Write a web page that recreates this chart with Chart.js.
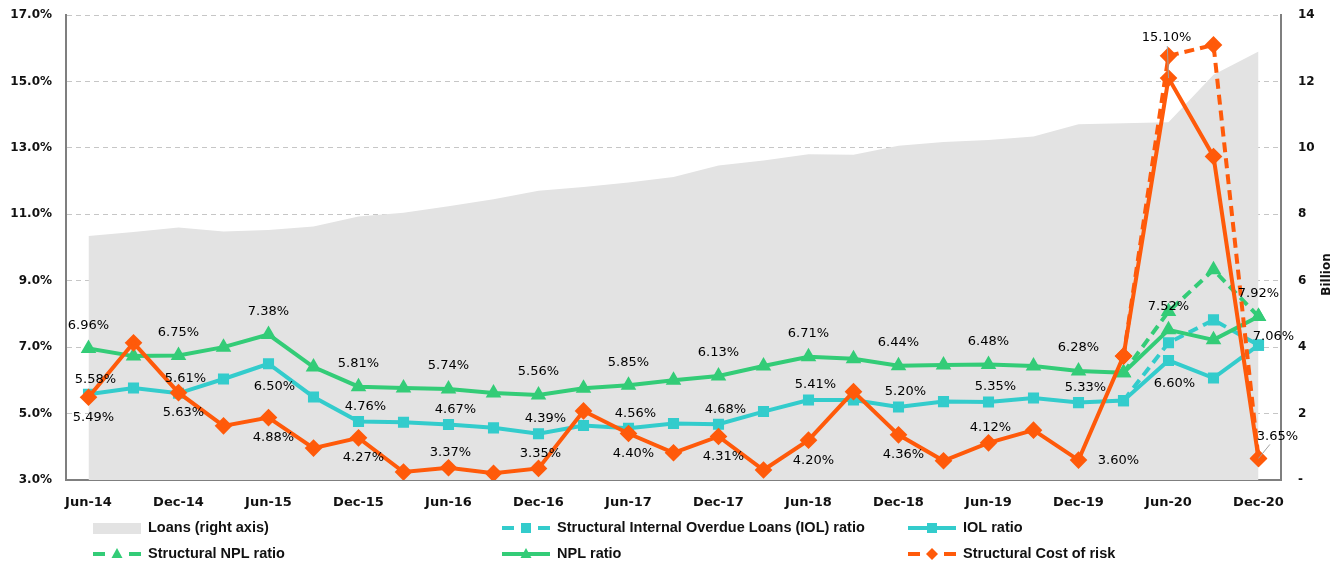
<!DOCTYPE html>
<html>
<head>
<meta charset="utf-8">
<script src="https://cdn.jsdelivr.net/npm/chart.js@4.4.1/dist/chart.umd.min.js"></script>
<style>
  body { margin: 0; background: #fff; }
  #wrap { position: relative; width: 1343px; height: 563px; }
</style>
</head>
<body>
<div id="wrap"><canvas id="chart"></canvas></div>
<script>
const quarters = ["Jun-14", "Sep-14", "Dec-14", "Mar-15", "Jun-15", "Sep-15", "Dec-15", "Mar-16", "Jun-16",
    "Sep-16", "Dec-16", "Mar-17", "Jun-17", "Sep-17", "Dec-17", "Mar-18", "Jun-18", "Sep-18", "Dec-18",
    "Mar-19", "Jun-19", "Sep-19", "Dec-19", "Mar-20", "Jun-20", "Sep-20", "Dec-20"];

// loans, billion (right axis)
const loans = [7.35, 7.47, 7.6, 7.48, 7.53, 7.63, 7.93, 8.05, 8.24, 8.45, 8.71, 8.82, 8.96, 9.12, 9.47,
    9.62, 9.81, 9.79, 10.06, 10.18, 10.24, 10.34, 10.71, 10.74, 10.77, 12.2, 12.9];

// ratios in %
const nplRatio = [6.96, 6.73, 6.75, 7.0, 7.38, 6.4, 5.81, 5.77, 5.74, 5.62, 5.56, 5.76, 5.85, 6.0, 6.13,
    6.43, 6.71, 6.65, 6.44, 6.46, 6.48, 6.43, 6.28, 6.23, 7.52, 7.22, 7.92];
const iolRatio = [5.58, 5.77, 5.61, 6.04, 6.50, 5.5, 4.76, 4.74, 4.67, 4.57, 4.39, 4.64, 4.56, 4.7, 4.68,
    5.06, 5.41, 5.41, 5.20, 5.36, 5.35, 5.47, 5.33, 5.39, 6.60, 6.07, 7.06];
const costOfRisk = [5.49, 7.13, 5.63, 4.63, 4.88, 3.96, 4.27, 3.24, 3.37, 3.2, 3.35, 5.08, 4.40, 3.82, 4.31,
    3.3, 4.20, 5.66, 4.36, 3.58, 4.12, 4.5, 3.60, 6.73, 15.10, 12.74, 3.65];

// structural series only differ from Mar-20
const pre = new Array(23).fill(null);
const structNpl = pre.concat([6.23, 8.07, 9.33, 7.92]);
const structIol = pre.concat([5.39, 7.13, 7.82, 7.06]);
const structCor = pre.concat([6.73, 15.77, 16.1, 3.65]);

const leftTicks = [3, 5, 7, 9, 11, 13, 15, 17];
const rightTicks = [0, 2, 4, 6, 8, 10, 12, 14];

const GREEN = "#33cc77";
const TEAL = "#33cccc";
const ORANGE = "#ff5a0a";
const AREA = "#e3e3e3";

// value labels on every second quarter: u = above, b = below, r/q = right, t = high above
const labelSets = [
    { data: nplRatio, place: "uuuuuuuuuuuuuu", off: { u: [0, -23] } },
    { data: iolRatio, place: "uubuuuuuuuuubr", off: { u: [7, -15], b: [6, 23], r: [15, -9] } },
    { data: costOfRisk, place: "bbbbuubbbburtq",
      off: { b: [5, 20], u: [2, -15], r: [40, 1], t: [-2, -40], q: [19, -22] } }
];

function marker(ctx, style, x, y, r) {
    ctx.beginPath();
    if (style === "rect") {
        ctx.rect(x - r, y - r, 2 * r, 2 * r);
    } else if (style === "triangle") {
        ctx.moveTo(x, y - r * 1.2);
        ctx.lineTo(x + r * 1.1, y + r * 0.8);
        ctx.lineTo(x - r * 1.1, y + r * 0.8);
        ctx.closePath();
    } else {
        ctx.moveTo(x, y - r);
        ctx.lineTo(x + r, y);
        ctx.lineTo(x, y + r);
        ctx.lineTo(x - r, y);
        ctx.closePath();
    }
    ctx.fill();
}

const valueLabels = {
    id: "valueLabels",
    afterDatasetsDraw(chart) {
        const ctx = chart.ctx;
        const x = chart.scales.x, y = chart.scales.y;
        ctx.save();
        ctx.font = "13px 'DejaVu Sans'";
        ctx.fillStyle = "#000";
        ctx.textAlign = "center";
        ctx.textBaseline = "middle";
        ctx.strokeStyle = "#a0a0a0";
        ctx.lineWidth = 1;
        labelSets.forEach(set => {
            for (let k = 0; k < set.place.length; k++) {
                const i = k * 2;
                const v = set.data[i];
                const o = set.off[set.place[k]];
                const px = x.getPixelForValue(i), py = y.getPixelForValue(v);
                if (set.place[k] === "t" || set.place[k] === "q") {
                    ctx.beginPath();
                    ctx.moveTo(px, py);
                    ctx.lineTo(px + o[0] * 0.6, py + o[1] + 8);
                    ctx.stroke();
                }
                ctx.fillText(v.toFixed(2) + "%", px + o[0], py + o[1]);
            }
        });
        ctx.restore();
    }
};

const legendRows = [
    [0, "Loans (right axis)"], [6, "Structural Internal Overdue Loans (IOL) ratio"], [4, "IOL ratio"],
    [5, "Structural NPL ratio"], [3, "NPL ratio"], [2, "Structural Cost of risk"]
];

const bottomLegend = {
    id: "bottomLegend",
    afterDraw(chart) {
        const ctx = chart.ctx;
        const colX = [93, 502, 908];
        const rowY = [528, 554];
        ctx.save();
        ctx.font = "bold 14.5px 'Liberation Sans'";
        ctx.textBaseline = "middle";
        legendRows.forEach((item, n) => {
            const ds = chart.data.datasets[item[0]];
            const x0 = colX[n % 3], y0 = rowY[Math.floor(n / 3)];
            if (ds.fill) {
                ctx.fillStyle = ds.backgroundColor;
                ctx.fillRect(x0, y0 - 5, 48, 11);
            } else {
                ctx.strokeStyle = ds.borderColor;
                ctx.fillStyle = ds.borderColor;
                ctx.lineWidth = 4;
                ctx.beginPath();
                if (ds.borderDash) {
                    ctx.moveTo(x0, y0); ctx.lineTo(x0 + 12, y0);
                    ctx.moveTo(x0 + 36, y0); ctx.lineTo(x0 + 48, y0);
                } else {
                    ctx.moveTo(x0, y0); ctx.lineTo(x0 + 48, y0);
                }
                ctx.stroke();
                marker(ctx, ds.pointStyle, x0 + 24, y0, ds.pointRadius);
            }
            ctx.fillStyle = "#111";
            ctx.fillText(item[1], x0 + 55, y0);
        });
        ctx.restore();
    }
};

const axisTitle = {
    id: "axisTitle",
    afterDraw(chart) {
        const ctx = chart.ctx;
        const a = chart.chartArea;
        ctx.save();
        ctx.translate(1327, (a.top + a.bottom) / 2 + 27);
        ctx.rotate(-Math.PI / 2);
        ctx.font = "bold 12px 'DejaVu Sans'";
        ctx.fillStyle = "#111";
        ctx.textAlign = "center";
        ctx.textBaseline = "middle";
        ctx.fillText("Billion", 0, 0);
        ctx.restore();
    }
};

function fixWidth(w) {
    return s => {
        s.width = w;
        s.paddingTop = 0;
        s.paddingBottom = 0;
    };
}

const ctx = document.getElementById("chart").getContext("2d");

new Chart(ctx, {
    type: "line",
    data: {
        labels: quarters,
        datasets: [
            { label: "Loans (right axis)", data: loans, yAxisID: "y2", fill: "origin",
              backgroundColor: AREA, borderWidth: 0, pointRadius: 0, order: 10 },
            { label: "Cost of risk", data: costOfRisk, borderColor: ORANGE, backgroundColor: ORANGE,
              borderWidth: 4, pointStyle: "rectRot", pointRadius: 6, order: 0 },
            { label: "Structural Cost of risk", data: structCor, borderColor: ORANGE, backgroundColor: ORANGE,
              borderWidth: 4, borderDash: [10, 6], pointStyle: "rectRot", pointRadius: 6, order: 1 },
            { label: "NPL ratio", data: nplRatio, borderColor: GREEN, backgroundColor: GREEN,
              borderWidth: 4, pointStyle: "triangle", pointRadius: 5, order: 2 },
            { label: "IOL ratio", data: iolRatio, borderColor: TEAL, backgroundColor: TEAL,
              borderWidth: 4, pointStyle: "rect", pointRadius: 5, order: 4 },
            { label: "Structural NPL ratio", data: structNpl, borderColor: GREEN, backgroundColor: GREEN,
              borderWidth: 4, borderDash: [10, 6], pointStyle: "triangle", pointRadius: 5, order: 3 },
            { label: "Structural Internal Overdue Loans (IOL) ratio", data: structIol, borderColor: TEAL,
              backgroundColor: TEAL, borderWidth: 4, borderDash: [10, 6], pointStyle: "rect",
              pointRadius: 5, order: 5 }
        ]
    },
    options: {
        responsive: true,
        maintainAspectRatio: false,
        animation: false,
        layout: { padding: { top: 15, left: 0, right: 0, bottom: 0 } },
        plugins: {
            legend: { display: false },
            tooltip: { enabled: false }
        },
        elements: { line: { tension: 0 }, point: { borderWidth: 0 } },
        scales: {
            x: {
                offset: true,
                grid: { display: false, drawTicks: false },
                border: { color: "#7f7f7f", width: 2 },
                afterFit: s => { s.height = 83; },
                ticks: {
                    autoSkip: false, maxRotation: 0, padding: 15, color: "#111",
                    font: { family: "'DejaVu Sans'", size: 13, weight: "bold" },
                    callback: (v, i) => (i % 2 === 0 ? quarters[i] : "")
                }
            },
            y: {
                position: "left",
                min: 3, max: 17,
                afterFit: fixWidth(66),
                afterBuildTicks: s => { s.ticks = leftTicks.map(v => ({ value: v })); },
                grid: { color: "#c6c6c6", drawTicks: false },
                border: { color: "#7f7f7f", width: 2, dash: [5, 4] },
                ticks: {
                    padding: 14, color: "#111",
                    font: { family: "'DejaVu Sans'", size: 12, weight: "bold" },
                    callback: v => v.toFixed(1) + "%"
                }
            },
            y2: {
                position: "right",
                min: 0, max: 14,
                afterFit: fixWidth(62),
                afterBuildTicks: s => { s.ticks = rightTicks.map(v => ({ value: v })); },
                grid: { display: false, drawTicks: false },
                border: { color: "#7f7f7f", width: 2 },
                ticks: {
                    padding: 17, color: "#111",
                    font: { family: "'DejaVu Sans'", size: 12, weight: "bold" },
                    callback: v => (v === 0 ? "-" : v)
                }
            }
        }
    },
    plugins: [valueLabels, bottomLegend, axisTitle]
});
</script>
</body>
</html>
